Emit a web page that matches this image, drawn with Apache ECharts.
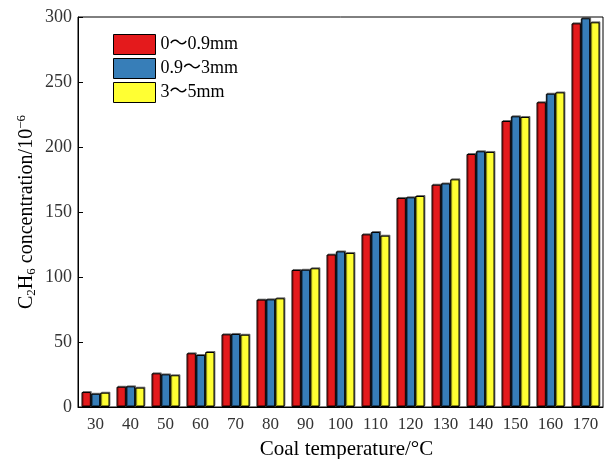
<!DOCTYPE html>
<html>
<head>
<meta charset="utf-8">
<script src="https://cdn.jsdelivr.net/npm/echarts@6/dist/echarts.min.js"></script>
<style>
  html, body { margin: 0; padding: 0; background: #fff; }
  #chart { width: 605px; height: 459px; }
</style>
</head>
<body>
<div id="chart"></div>
<script>
var temps = ['30', '40', '50', '60', '70', '80', '90', '100', '110', '120', '130', '140', '150', '160', '170']
var size1 = [11.5, 15.6, 25.9, 41.3, 55.9, 82.6, 105.4, 117.3, 132.8, 160.8, 171, 194.6, 220, 234.4, 295.1]
var size2 = [10.2, 15.9, 25.1, 40, 56.2, 82.8, 105.6, 119.7, 134.6, 161.3, 172, 196.7, 223.6, 241, 299]
var size3 = [11, 14.9, 24.4, 42.3, 55.6, 83.6, 106.7, 118.5, 131.8, 162.3, 175.1, 196.2, 223.1, 242, 295.9]
var names = ['0～0.9mm', '0.9～3mm', '3～5mm']
var colors = ['#e41a1c', '#377eb8', '#ffff33']

var font = '"Liberation Serif", "Noto Sans CJK SC"'
var myChart = echarts.init(document.getElementById('chart'))

function barSeries(name, data, color) {
  return {
    name: name,
    type: 'bar',
    data: data,
    barGap: '0%',
    barCategoryGap: '20%',
    itemStyle: {
      color: color,
      borderColor: '#000',
      borderWidth: 1,
      shadowColor: 'rgba(0,0,0,0.45)',
      shadowOffsetX: 1,
      shadowOffsetY: -1,
    },
  }
}

var option = {
  animation: false,
  textStyle: { fontFamily: font },
  grid: {
    left: 78,
    right: 2,
    top: 17,
    bottom: 52,
    outerBoundsMode: 'none',
    show: true,
    borderColor: '#000',
    borderWidth: 1,
  },
  legend: {
    orient: 'vertical',
    left: 108,
    top: 29,
    icon: 'rect',
    itemWidth: 42,
    itemHeight: 20,
    itemGap: 3,
    data: names,
    itemStyle: { borderColor: '#000', borderWidth: 1, shadowBlur: 0, shadowOffsetX: 0, shadowOffsetY: 0 },
    textStyle: { fontFamily: font, fontSize: 18, color: '#000' },
  },
  xAxis: {
    type: 'category',
    data: temps,
    name: 'Coal temperature/°C',
    nameLocation: 'middle',
    nameGap: 32,
    nameMoveOverlap: false,
    nameTextStyle: { fontFamily: font, fontSize: 21, color: '#000', padding: [0, 0, 0, 12] },
    axisLine: { lineStyle: { color: '#000', width: 1 } },
    axisTick: { inside: true, alignWithLabel: true, length: 4, lineStyle: { color: '#000' } },
    axisLabel: { fontFamily: font, fontSize: 17, color: '#333', margin: 9 },
  },
  yAxis: {
    type: 'value',
    min: 0,
    max: 300,
    interval: 50,
    name: '{n|C}{sub|2}{n|H}{sub|6}{n| concentration/10}{sup|−6}',
    nameLocation: 'middle',
    nameGap: 40,
    nameMoveOverlap: false,
    nameTextStyle: {
      fontFamily: font,
      fontSize: 20,
      color: '#000',
      rich: {
        n: { fontFamily: font, fontSize: 20, color: '#000' },
        sub: { fontFamily: font, fontSize: 13, color: '#000', verticalAlign: 'bottom', padding: [10, 0, 0, 0] },
        sup: { fontFamily: font, fontSize: 13, color: '#000', verticalAlign: 'top', padding: [0, 0, 10, 0] },
      },
    },
    splitLine: { show: false },
    axisLine: { show: true, lineStyle: { color: '#000', width: 1 } },
    axisTick: { show: true, inside: true, length: 5, lineStyle: { color: '#000' } },
    axisLabel: { fontFamily: font, fontSize: 18, color: '#333', margin: 6 },
  },
  series: [
    barSeries(names[0], size1, colors[0]),
    barSeries(names[1], size2, colors[1]),
    barSeries(names[2], size3, colors[2]),
  ],
}

myChart.setOption(option)
</script>
</body>
</html>
